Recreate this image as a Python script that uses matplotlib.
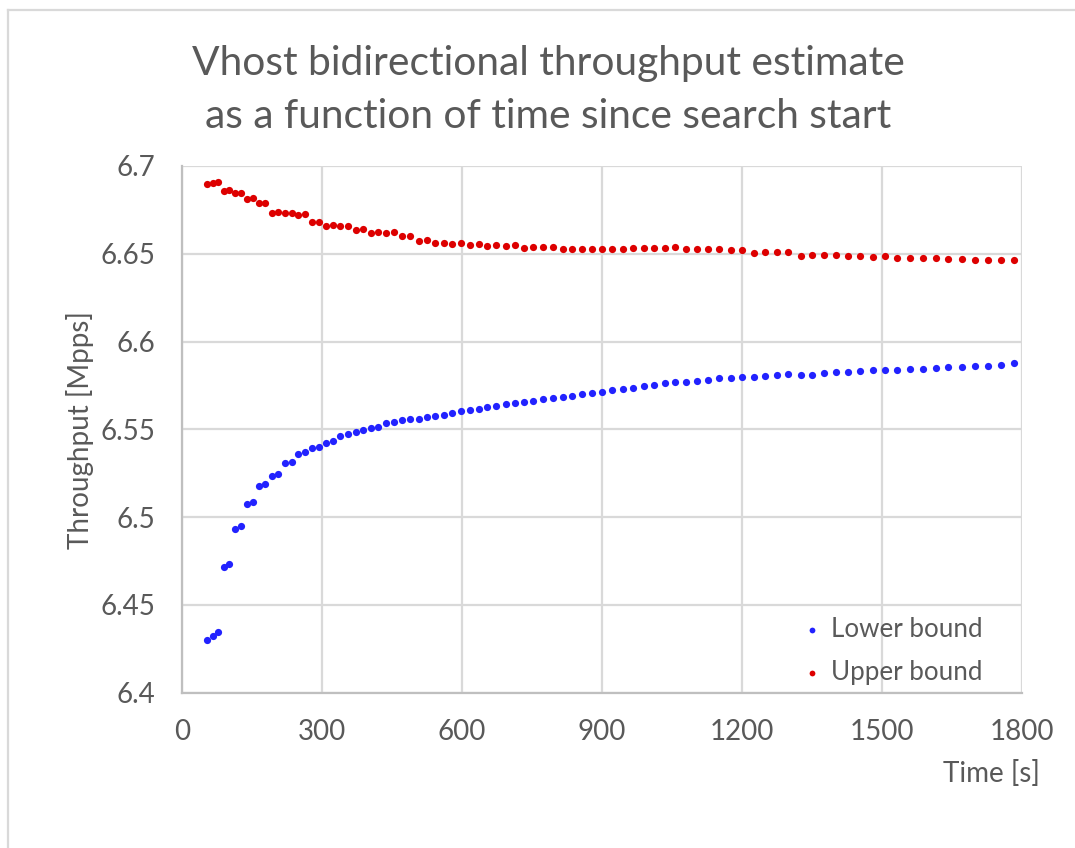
import matplotlib
matplotlib.use("Agg")
import matplotlib.pyplot as plt
from matplotlib.lines import Line2D

plt.rcParams['font.family'] = ['Lato', 'DejaVu Sans']

time_s = [54, 66, 78, 90, 102, 114, 126, 139, 152, 166, 179, 193, 207, 221, 236, 249, 264,
          279, 294, 309, 325, 340, 356, 373, 388, 405, 421, 438, 455, 472, 490, 508, 526,
          543, 561, 580, 598, 618, 636, 655, 674, 694, 714, 733, 753, 774, 795, 816, 837,
          858, 880, 901, 923, 946, 967, 990, 1012, 1035, 1058, 1081, 1104, 1128, 1152,
          1176, 1201, 1226, 1250, 1275, 1300, 1326, 1351, 1376, 1401, 1428, 1454, 1481,
          1507, 1533, 1561, 1588, 1616, 1643, 1671, 1699, 1727, 1756, 1784]

lower_bound = [6.4302, 6.4323, 6.4344, 6.4717, 6.4732, 6.4933, 6.4949, 6.5074, 6.5086,
               6.5175, 6.5186, 6.5236, 6.5247, 6.5306, 6.5314, 6.5359, 6.5369, 6.5392,
               6.5399, 6.5422, 6.5432, 6.5462, 6.5471, 6.5485, 6.5494, 6.5507, 6.5514,
               6.5536, 6.5542, 6.5551, 6.5559, 6.5561, 6.5568, 6.5576, 6.5584, 6.5595,
               6.5603, 6.5612, 6.5616, 6.5625, 6.5633, 6.5646, 6.5652, 6.5656, 6.5662,
               6.5673, 6.5679, 6.5684, 6.5692, 6.5702, 6.5707, 6.5715, 6.5722, 6.5732,
               6.5738, 6.5747, 6.5753, 6.5762, 6.5768, 6.5772, 6.5776, 6.5783, 6.5791,
               6.5795, 6.5800, 6.5797, 6.5802, 6.5808, 6.5814, 6.5808, 6.5812, 6.5819,
               6.5825, 6.5827, 6.5831, 6.5837, 6.5840, 6.5838, 6.5844, 6.5846, 6.5852,
               6.5854, 6.5857, 6.5861, 6.5863, 6.5867, 6.5878]

upper_bound = [6.6897, 6.6905, 6.6909, 6.6859, 6.6863, 6.6848, 6.6848, 6.6814, 6.6819,
               6.6791, 6.6791, 6.6734, 6.6736, 6.6730, 6.6734, 6.6723, 6.6726, 6.6679,
               6.6681, 6.6660, 6.6662, 6.6658, 6.6660, 6.6637, 6.6641, 6.6620, 6.6622,
               6.6620, 6.6624, 6.6599, 6.6603, 6.6575, 6.6577, 6.6562, 6.6563, 6.6557,
               6.6559, 6.6551, 6.6553, 6.6546, 6.6548, 6.6546, 6.6548, 6.6534, 6.6536,
               6.6536, 6.6540, 6.6529, 6.6529, 6.6527, 6.6529, 6.6527, 6.6529, 6.6529,
               6.6531, 6.6531, 6.6532, 6.6532, 6.6538, 6.6525, 6.6527, 6.6527, 6.6529,
               6.6521, 6.6522, 6.6507, 6.6508, 6.6508, 6.6508, 6.6489, 6.6491, 6.6491,
               6.6493, 6.6489, 6.6489, 6.6481, 6.6485, 6.6476, 6.6477, 6.6474, 6.6474,
               6.6468, 6.6470, 6.6466, 6.6466, 6.6464, 6.6466]

x_ticks = [0, 300, 600, 900, 1200, 1500, 1800]
y_ticks = [6.4, 6.45, 6.5, 6.55, 6.6, 6.65, 6.7]
y_tick_labels = ["6.4", "6.45", "6.5", "6.55", "6.6", "6.65", "6.7"]

TEXT = "#595959"
GRID = "#d9d9d9"
AXIS = "#bfbfbf"
BLUE = "#2222ff"
RED = "#dd0000"

W, H = 1075, 848
fig = plt.figure(figsize=(W / 100, H / 100), dpi=100)
ax = fig.add_axes([181.7 / W, 1 - 692.7 / H, (1021.7 - 181.7) / W, (692.7 - 166) / H])

# outer chart border (light gray, partially cropped)
fig.add_artist(Line2D([8 / W, 8 / W], [0, 1 - 10 / H], transform=fig.transFigure,
                      color=GRID, lw=1.6))
fig.add_artist(Line2D([8 / W, 1], [1 - 10 / H, 1 - 10 / H], transform=fig.transFigure,
                      color=GRID, lw=1.6))

ax.scatter(time_s, lower_bound, s=27, color=BLUE, linewidths=0, label="Lower bound", zorder=3)
ax.scatter(time_s, upper_bound, s=27, color=RED, linewidths=0, label="Upper bound", zorder=3)

ax.set_xlim(0, 1800)
ax.set_ylim(6.4, 6.7)
ax.set_xticks(x_ticks)
ax.set_xticklabels([str(t) for t in x_ticks])
ax.set_yticks(y_ticks)
ax.set_yticklabels(y_tick_labels)
ax.grid(True, color=GRID, lw=1.6, zorder=0)
ax.set_axisbelow(True)
for side in ("top", "right"):
    ax.spines[side].set_visible(False)
for side in ("left", "bottom"):
    ax.spines[side].set_color(AXIS)
    ax.spines[side].set_linewidth(1.6)
ax.tick_params(axis="both", length=0, labelsize=20, labelcolor=TEXT, pad=19)

fig.text(548 / W, 1 - 64 / H, "Vhost bidirectional throughput estimate", ha="center", va="center",
         fontsize=29.3, color=TEXT)
fig.text(548 / W, 1 - 117 / H, "as a function of time since search start", ha="center", va="center",
         fontsize=29.3, color=TEXT)

fig.text(1040 / W, 1 - 773 / H, "Time [s]", ha="right", va="center", fontsize=20, color=TEXT)
fig.text(80 / W, 1 - 430 / H, "Throughput [Mpps]", ha="center", va="center", rotation=90,
         fontsize=20, color=TEXT)

leg = fig.legend(*ax.get_legend_handles_labels(), loc="upper left",
                 bbox_to_anchor=(802 / W, 1 - 617 / H), bbox_transform=fig.transFigure,
                 frameon=False, fontsize=18.7, labelcolor=TEXT, markerscale=0.8,
                 handlelength=0.8, handletextpad=0.3, labelspacing=0.68, borderpad=0,
                 borderaxespad=0)

fig.savefig("out.png", dpi=100, facecolor="white")
